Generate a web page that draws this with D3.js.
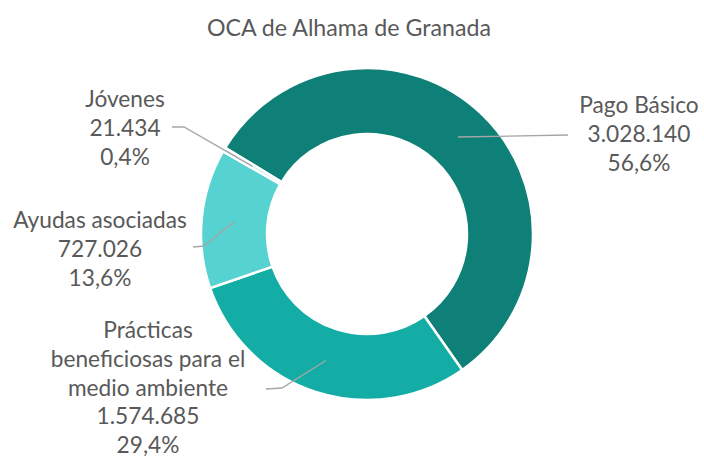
<!DOCTYPE html>
<html>
<head>
<meta charset="utf-8">
<script src="https://cdn.jsdelivr.net/npm/d3@7"></script>
<style>
  body { margin: 0; background: #fff; }
  text { font-family: Lato, "Open Sans", sans-serif; fill: #595959; }
</style>
</head>
<body>
<svg id="chart" width="704" height="461"></svg>
<script>
// Data
const title = "OCA de Alhama de Granada";
const categories = ["Pago Básico", "Prácticas beneficiosas para el medio ambiente", "Ayudas asociadas", "Jóvenes"];
const values = [3028140, 1574685, 727026, 21434];
// Category names as they wrap in the labels
const nameLines = [["Pago Básico"], ["Prácticas", "beneficiosas para el", "medio ambiente"], ["Ayudas asociadas"], ["Jóvenes"]];
const colors = ["#0f8077", "#13ada6", "#56d3d0", "#b5ebe8"];

// Layout
const W = 704, H = 461;
const cx = 367, cy = 234, outerR = 166, innerR = 100;
const startDeg = -58.7;
const lineH = 28.8;
const fontSize = 22.7;
// label anchor (centre x, first baseline) and the leader's outer points
const labelLayout = [
  { x: 639, y: 113, leader: [[568, 135]] },
  { x: 148, y: 338, leader: [[266, 389], [282, 388]] },
  { x: 100, y: 228, leader: [[193, 247], [204, 246]] },
  { x: 125, y: 107, leader: [[172, 127], [184, 127]] }
];

const es = d3.formatLocale({ decimal: ",", thousands: ".", grouping: [3], currency: ["", "€"] });
const fmtInt = es.format(",d");
const fmtPct = es.format(".1%");

const svg = d3.select("#chart");
const total = d3.sum(values);

svg.append("text")
  .attr("x", 349).attr("y", 36)
  .attr("text-anchor", "middle")
  .style("font-size", "23.2px")
  .text(title);

const pie = d3.pie().sort(null)
  .startAngle(startDeg * Math.PI / 180)
  .endAngle(startDeg * Math.PI / 180 + 2 * Math.PI);
const arcs = pie(values);
const arc = d3.arc().innerRadius(innerR).outerRadius(outerR);

const g = svg.append("g").attr("transform", `translate(${cx},${cy})`);
g.selectAll("path.slice").data(arcs).join("path")
  .attr("class", "slice")
  .attr("d", arc)
  .attr("fill", (d, i) => colors[i])
  .attr("stroke", "#fff")
  .attr("stroke-width", 2.5)
  .attr("stroke-linejoin", "miter");

// leader lines, ending at each slice's centroid
arcs.forEach((d, i) => {
  const c = arc.centroid(d);
  const pts = labelLayout[i].leader.concat([[c[0] + cx, c[1] + cy]]);
  svg.append("path")
    .attr("d", d3.line()(pts))
    .attr("fill", "none")
    .attr("stroke", "#a6a6a6")
    .attr("stroke-width", 1.3);
});

// labels: name, value, percentage
arcs.forEach((d, i) => {
  const lines = nameLines[i].concat([fmtInt(values[i]), fmtPct(values[i] / total)]);
  const t = svg.append("text")
    .attr("text-anchor", "middle")
    .style("font-size", fontSize + "px");
  lines.forEach((s, k) => {
    t.append("tspan")
      .attr("x", labelLayout[i].x)
      .attr("y", labelLayout[i].y + k * lineH)
      .text(s);
  });
});
</script>
</body>
</html>
